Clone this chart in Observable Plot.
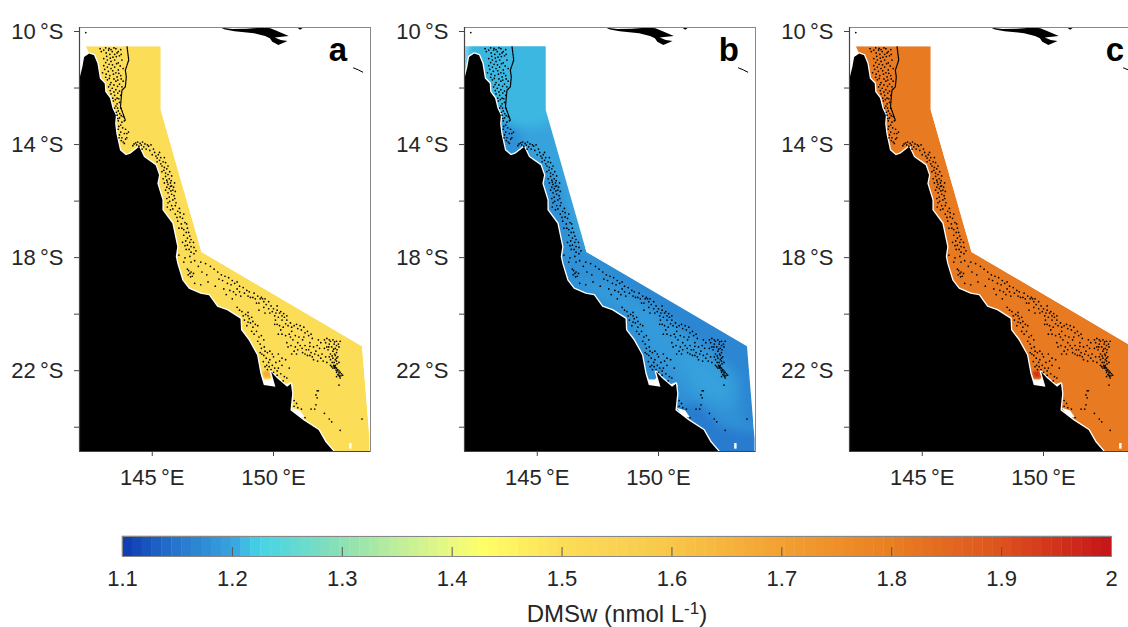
<!DOCTYPE html>
<html><head><meta charset="utf-8">
<script src="https://cdn.jsdelivr.net/npm/d3@7"></script>
<script src="https://cdn.jsdelivr.net/npm/@observablehq/plot@0.6"></script>
<style>
html,body{margin:0;padding:0;background:#fff;overflow:hidden}
#root{position:relative;width:1128px;height:627px;overflow:hidden;font-family:"Liberation Sans",Arial,sans-serif;color:#262626}
#root>svg{position:absolute}
#lab{position:absolute;left:417px;width:400px;top:600px;text-align:center;font-size:24px;line-height:28px}
#lab sup{font-size:17px;line-height:0;vertical-align:8px}
</style></head><body><div id="root"></div>
<script>
// colour map of the colour bar
const colorStops=[1.1,1.15,1.2,1.225,1.3,1.35,1.4,1.43,1.5,1.6,1.7,1.8,1.9,2.0];
const colorValues=["#0F39B3","#2676CC","#37A3DD","#44D4E8","#8BE0B4","#BCEE9B","#EAF97F","#FFFF66","#FCDD58","#F8C74A","#F3A030","#E97F22","#DE521E","#C5141A"];
const barTicks=[1.1,1.2,1.3,1.4,1.5,1.6,1.7,1.8,1.9,2];
const latTicks=[-10,-12,-14,-16,-18,-20,-22,-24];
const latLabels=[-10,-14,-18,-22];
const lonTicks=[145,150];
// Queensland coast, north to south (lon, lat)
const coast=[[142.4,-10.92],[142.6,-10.98],[142.74,-11.27],[142.84,-11.8],[143.04,-11.98],[143.06,-12.27],[143.26,-12.5],[143.36,-12.86],[143.5,-13.1],[143.47,-13.4],[143.52,-13.75],[143.67,-14.34],[143.91,-14.52],[144.11,-14.46],[144.46,-14.22],[144.66,-14.58],[145.14,-14.87],[145.28,-15.22],[145.21,-15.52],[145.42,-16.1],[145.42,-16.46],[145.83,-16.93],[146.03,-17.76],[145.97,-18.1],[146.03,-18.35],[146.24,-18.94],[146.51,-19.24],[146.99,-19.42],[147.34,-19.47],[147.68,-19.88],[148.09,-20],[148.64,-20.3],[148.66,-20.7],[148.98,-21.06],[149.32,-21.59],[149.46,-22.24],[149.6,-22.65],[150.08,-22.71],[149.9,-22.18],[150.15,-22.41],[150.56,-22.71],[150.72,-22.6],[150.77,-22.95],[150.7,-23.54],[151.25,-23.9],[151.86,-24.24],[152.14,-24.66],[152.48,-25]];
const landWest=[[142,-25],[142,-11.8],[142.12,-11.39],[142.19,-11.04]];
// outer limit of the sea domain
const seaOuter=[[142.26,-10.66],[145.35,-10.66],[145.35,-12.92],[147.03,-17.94],[153.65,-21.28],[153.96,-24.54],[153.96,-25]];
// everything of the frame outside the sea domain
const outside=[[142,-10],[154,-10],[154,-25.3],[153.96,-25.3],[153.96,-24.54],[153.65,-21.28],[147.03,-17.94],[145.35,-12.92],[145.35,-10.66],[142,-10.66]];
// islands north of the domain
const guinea=[[147.82,-10],[148,-10.07],[148.4,-10.13],[149.2,-10.2],[149.65,-10.3],[149.85,-10.38],[149.95,-10.5],[150.2,-10.62],[150.58,-10.48],[150.3,-10.44],[150.05,-10.35],[150.63,-10.3],[150.15,-10.12],[149.87,-10.03],[149.6,-10],[148.9,-10.04],[148.3,-10.05],[147.95,-10.02]];
const islet=[[151,-10.02],[151.2,-10.02],[151.1,-10.08]];
const streak=[[153.3,-11.43],[153.5,-11.5],[153.68,-11.58]];
// white gaps by the coast and in the field
const gaps=[
 [[149.5,-22.25],[149.6,-22.45],[149.85,-22.45],[149.95,-22.35],[150.1,-22.6],[150.08,-22.75],[149.55,-22.7]],
 [[150.2,-22.45],[150.5,-22.62],[150.72,-22.55],[150.8,-22.7],[150.5,-22.8]],
 [[150.75,-23.45],[151.1,-23.55],[151.3,-23.8],[151,-23.75]],
 [[153.12,-24.7],[153.22,-24.7],[153.22,-24.9],[153.12,-24.9]]
];
// barrier reef edge in the far north
const reefLine=[[143.96,-10.68],[144.03,-11.15],[143.89,-11.51],[143.93,-11.75],[143.89,-12.1],[143.75,-12.22],[143.72,-12.5],[143.69,-12.8],[143.89,-13.28]];
// individual reefs
const reefs=[[142.26,-10.18],[142.85,-10.75],[142.9,-10.85],[143,-10.8],[143.1,-10.9],[143.2,-10.8],[143.25,-10.95],[143.35,-10.85],[143.5,-10.75],[143.45,-10.95],[143.6,-10.85],[143.65,-11],[143,-11.1],[143.15,-11.15],[143.3,-11.2],[143.45,-11.15],[143.6,-11.25],[143.75,-11.15],[143,-11.35],[143.15,-11.4],[143.3,-11.45],[143.45,-11.4],[143.6,-11.5],[143.8,-11.45],[142.95,-11.6],[143.1,-11.65],[143.25,-11.7],[143.4,-11.65],[143.55,-11.75],[143.7,-11.7],[143.15,-11.85],[143.3,-11.95],[143.5,-11.9],[143.65,-12],[143.8,-11.9],[143.2,-12.1],[143.35,-12.15],[143.5,-12.2],[143.65,-12.25],[143.75,-12.1],[143.3,-12.35],[143.45,-12.4],[143.55,-12.5],[143.7,-12.4],[143.4,-12.6],[143.55,-12.7],[143.65,-12.65],[143.45,-12.85],[143.6,-12.95],[143.7,-12.85],[143.55,-13.1],[143.65,-13.2],[143.8,-13.15],[143.6,-13.3],[143.75,-13.35],[143.85,-13.3],[143.62,-13.5],[143.78,-13.55],[143.9,-13.6],[143.7,-13.7],[143.85,-13.75],[143.95,-13.75],[143.75,-13.9],[143.9,-13.95],[143.8,-14.05],
[144.25,-14.12],[144.32,-14.08],[144.4,-14.05],[144.5,-14.1],[144.6,-14.05],[144.7,-14.12],[144.45,-14.2],[144.85,-14.2],[144.95,-14.15],[144.75,-14.3],[144.9,-14.35],[145.05,-14.3],[145,-14.5],[145.15,-14.55],[145.25,-14.5],[145.35,-14.6],[145.3,-14.7],[145.45,-14.75],[145.2,-14.75],[145.4,-14.9],[145.5,-14.95],[145.6,-15],
[145.4,-15.1],[145.55,-15.15],[145.65,-15.2],[145.45,-15.35],[145.6,-15.4],[145.7,-15.35],[145.5,-15.5],[145.65,-15.55],[145.75,-15.5],[145.8,-15.6],[145.6,-15.65],[145.7,-15.7],[145.85,-15.75],[145.65,-15.85],[145.8,-15.9],[145.9,-15.95],[145.7,-16],[145.85,-16.1],[145.65,-16.2],[145.8,-16.3],[145.95,-16.3],[146.05,-16.5],[145.75,-16.45],[145.95,-16.6],[146.15,-16.55],[146.25,-16.75],[146.05,-16.85],[146.2,-16.95],[146.35,-16.9],[146.1,-17.1],[146.3,-17.15],[146.45,-17.1],[146.5,-17.25],[146.3,-17.35],[146.45,-17.45],[146.6,-17.5],[146.25,-17.6],[146.45,-17.7],[146.6,-17.75],[146.7,-17.6],[146.4,-17.85],[146.6,-17.95],[146.8,-17.9],
[146.1,-18.05],[146.35,-18.15],[146.55,-18.1],[146.75,-18.25],[147,-18.3],[147.2,-18.35],[147.4,-18.45],[146.5,-18.6],[146.55,-18.7],[146.6,-18.65],[146.65,-18.8],[147,-19.1],[146.75,-19.05],
[147.85,-18.75],[148,-18.8],[148.15,-18.85],[148.3,-18.95],[147.9,-18.95],[148.1,-19.05],[148.25,-19.1],[148.4,-19.05],[148.5,-19],[148.6,-19.15],[148.75,-19.2],[148.9,-19.3],[148.6,-19.35],[148.8,-19.4],[149,-19.35],[149.2,-19.4],[149.35,-19.5],[149.5,-19.55],[149.6,-19.7],[149.4,-19.75],[149.25,-19.6],[149.05,-19.55],[149.7,-19.8],[149.9,-19.85],[149.55,-19.6],[150,-19.95],[150.15,-20],[150.25,-20.1],[150.35,-20.2],[150.45,-20.25],[150.3,-20.05],[150.55,-20.35],[150.7,-20.45],[150.85,-20.55],[150.6,-20.55],[151,-20.65],[151.15,-20.7],[151.3,-20.8],[151.45,-20.9],[151.6,-21],
[148.5,-19.9],[148.7,-20.05],[148.85,-20.15],[148.95,-20.2],[149,-20.3],[148.8,-20.35],[149.05,-20.45],[148.9,-20.55],[149.15,-20.6],[149.3,-20.75],[149.35,-20.55],[149.5,-20.9],[149.1,-20.75],[149.45,-21.2],[149.6,-21.05],
[150.08,-20.35],[150.15,-20.5],[150.25,-20.55],[150.3,-20.7],[150.4,-20.6],[150.5,-20.9],[150.65,-20.85],[150.75,-20.75],[150.9,-20.9],[151.05,-20.95],[151.2,-21.05],[151,-21.15],[151.3,-21.25],[151.5,-21.15],[151.65,-21.3],[151.45,-21.4],[151.75,-21.45],[151.9,-21.35],[151.85,-21.6],[152,-21.55],[152.15,-21.65],[152.05,-21.8],
[152.1,-21.05],[152.2,-21],[152.3,-21.05],[152.45,-21.05],[152.6,-21.1],[152.75,-21.1],[152.15,-21.15],[152.3,-21.2],[152.5,-21.2],[152.6,-21.25],[152.4,-21.3],[152.55,-21.35],[152.7,-21.3],[152.25,-21.4],[152.45,-21.45],[152.6,-21.5],[152.35,-21.55],[152.55,-21.6],[152.65,-21.65],[152.45,-21.7],[152.6,-21.8],[152.35,-21.75],[152.5,-21.85],[152.7,-21.85],[152.55,-21.95],[152.4,-22],[152.5,-22],[152.55,-22.03],[152.6,-22.05],[152.65,-22.1],[152.7,-22.15],[152.75,-22.2],[152.8,-22.25],[152.6,-22.2],[152.7,-22.3],[152.6,-22.35],[152.75,-22.4],[152.85,-22.3],
[149.5,-21.35],[149.65,-21.45],[149.75,-21.5],[149.85,-21.45],[149.6,-21.6],[149.7,-21.7],[149.85,-21.75],[150,-21.65],[149.8,-21.85],[149.95,-21.95],[150.1,-21.85],[150.25,-21.8],[149.65,-22],[149.75,-22.1],[149.9,-22.1],[150.05,-22.05],[150.2,-22.05],[150.35,-21.95],[150,-22.2],[150.15,-22.3],[150.3,-22.25],[150.45,-22.35],[150.55,-22.4],[150.4,-22.5],
[150.6,-21.3],[151.2,-21.5],[150.9,-21.3],[151.5,-21.6],
[151.8,-22.85],[151.75,-23],[151.8,-23.1],[151.75,-23.35],[151.7,-23.5],[151.85,-22.85],[150.85,-23.2],[150.95,-23.3],[150.85,-23.4],[151,-23.45],[151.15,-23.5],[151.3,-23.8],[152.1,-23.65],[152.3,-23.85],[152.4,-23.95],[152.75,-24.25],[153.65,-23.85],[152.7,-22.65],[151.55,-23.5]];
const reefsMore=[[143.08,-10.72],[143.22,-10.74],[143.3,-10.78],[143.42,-10.72],[143.55,-10.9],[143.7,-10.78],[143.12,-11.02],[143.27,-11.08],[143.38,-11.05],[143.52,-11.03],[143.72,-10.95],[143.08,-11.24],[143.22,-11.3],[143.36,-11.32],[143.53,-11.28],[143.68,-11.36],[143.04,-11.48],[143.19,-11.55],[143.37,-11.53],[143.5,-11.6],[143.62,-11.62],[143.08,-11.76],[143.23,-11.8],[143.42,-11.82],[143.58,-11.86],[143.72,-11.82],[143.26,-12.02],[143.42,-12.03],[143.57,-12.08],[143.27,-12.23],[143.42,-12.28],[143.58,-12.32],[143.37,-12.5],[143.48,-12.55],[143.62,-12.52],[143.5,-12.78],[143.57,-12.85],[143.52,-13],[143.66,-13.05],[143.72,-13.12],[143.58,-13.22],[143.7,-13.45],[143.6,-13.6],[143.65,-13.8],[143.72,-14],[143.63,-13.9],[143.85,-14.1],[143.95,-13.9],[144.02,-13.7],
[144.2,-14.18],[144.36,-14.15],[144.55,-14.16],[144.65,-14.22],[144.8,-14.15],[144.58,-14.3],[145.1,-14.42],[145.3,-14.42],[145.2,-14.62],[145.5,-14.6],[145.55,-14.78],[145.35,-14.82],[145.65,-14.9],
[145.48,-15.05],[145.72,-15.1],[145.8,-15.25],[145.55,-15.27],[145.78,-15.42],[145.62,-15.47],[145.92,-15.5],[145.88,-15.65],[145.75,-15.62],[145.95,-15.8],[145.77,-15.78],[145.55,-15.75],[145.93,-16.05],[145.6,-16.05],[145.72,-16.15],[145.98,-16.2],[145.62,-16.35],[145.85,-16.42],[146.12,-16.4],[146.15,-16.7],[146.3,-16.6],[146.02,-16.72],[146.42,-16.95],[146.22,-17.1],[146.4,-17.25],[146.55,-17.38],[146.38,-17.55],[146.55,-17.6],[146.72,-17.78],[146.35,-17.72],[146.52,-17.85],[146.72,-18],
[146.3,-18.3],[146.6,-18.3],[146.9,-18.45],[146.45,-18.55],[146.48,-18.75],[146.7,-18.7],[146.58,-18.82],[147.55,-18.55],[147.7,-18.65],[147.75,-18.9],[147.6,-19.15],[147.95,-19.25],[148.2,-19.3],[148.35,-19.35],[148.5,-19.25],[148.45,-19.45],[148.65,-19.5],[148.95,-19.5],[149.15,-19.55],[149.3,-19.75],[149.45,-19.6],[149.65,-19.6],[149.8,-19.7],[149.6,-19.9],[149.8,-19.95],[149.95,-20.05],[150.1,-20.1],[150.05,-20.2],[150.2,-20.25],[150.35,-20.35],[150.15,-19.85],[150.42,-20.12],[150.55,-20.2],[150.5,-20.48],[150.75,-20.6],[150.95,-20.5],[151.1,-20.55],[151.25,-20.6],[151.4,-20.75],[151.55,-20.85],
[148.6,-20],[148.75,-20.2],[148.95,-20.08],[149.1,-20.25],[149.15,-20.4],[149.25,-20.5],[148.95,-20.42],[149.2,-20.85],[149.4,-20.95],[149.35,-21.1],[149.62,-21.3],[149.45,-21.5],[149.58,-21.82],[149.52,-21.55],[149.72,-21.95],[149.82,-22],[150.15,-22.15],[149.95,-21.55],[150.2,-21.55],[150.35,-21.7],[150.5,-21.75],[150.65,-22.05],
[150.8,-21.05],[151.1,-21.25],[151.35,-21.4],[151.55,-21.5],[151.7,-21.55],[151.65,-21.75],[151.95,-21.7],[151.3,-21.55],[151.8,-21.25],[151.95,-21.15],
[152.2,-21.3],[152.35,-21.1],[152.52,-21.12],[152.68,-21.2],[152.28,-21.3],[152.48,-21.38],[152.62,-21.4],[152.52,-21.55],[152.42,-21.62],[152.6,-21.7],[152.55,-21.75],[152.42,-21.85],[152.62,-21.9],[152.48,-21.95],[152.52,-22.05],[152.45,-22.05],[152.58,-22.12],[152.62,-22.15],[152.7,-22.22],[152.65,-22.28],[152.78,-22.32],[152.72,-22.35],[152.55,-22.02],[152.52,-21.98],
[150.55,-21.15],[150.72,-21.25],[150.85,-21.45],[151,-21.4],[151.18,-21.35],[151.4,-21.6],[151.6,-21.65],[151.82,-21.8],[150.75,-21.55],[150.95,-21.55],[150.7,-20.95],[150.35,-20.85],[150.2,-20.85],[149.85,-20.1],[149.65,-20.1],[149.4,-20],[148.3,-19.6],[148.05,-19.45],[147.25,-18.75],[147.05,-18.65],[147.3,-19],[150.05,-20.5],[151.25,-20.95],[151.5,-21.28],[151.85,-21.05],[152.1,-21.35],[152.3,-21.65],[152.2,-21.85],[152.35,-21.95]];
// DMSw value of the field, per panel
const seaValues={a:1.5,b:1.18,c:1.81};
const orangeSpot=[[149.55,-22.15],[149.85,-22.15],[149.88,-22.38],[149.6,-22.38]];
const blueNorth=[[142,-10.4],[145.7,-10.4],[145.7,-13.2],[145.2,-13.5],[144,-13.5],[143,-13],[142,-12]];
const blueMid=[[143.8,-12.6],[145.8,-12.6],[147.2,-17],[147.5,-18],[146.6,-17.6],[145.9,-15.5],[144.6,-14.5]];
const blueCore=[[146.5,-18.9],[148,-19.1],[150,-20.2],[152.5,-21.6],[153.2,-22.4],[153.3,-23.2],[152.8,-23.6],[151.6,-23.2],[151,-22.7],[149.8,-21.6],[148.8,-20.2],[147.5,-19.5]];
const blueCore2=[[150.8,-21.5],[152,-21.9],[153,-22.6],[152.6,-23.2],[151.6,-22.8]];
const blueStrip=[[147.2,-18],[153.8,-21.2],[154.2,-24],[153.5,-24],[153.4,-22.3],[150.5,-20.3]];
const blueSouth=[[152,-24],[153.5,-24.3],[154.2,-24.3],[154.2,-25.3],[152.2,-25.3]];
const blueCoast=[[150.7,-23.4],[151.7,-23.3],[152.5,-24.1],[152,-24.7]];
const patches={
 a:[{v:1.68,p:orangeSpot}],
 b:[{v:1.2,p:blueMid},{v:1.21,p:blueNorth},{v:1.19,p:blueCore},{v:1.198,p:blueCore2},{v:1.168,p:blueStrip},{v:1.155,p:blueSouth},{v:1.155,p:blueCoast}],
 c:[{v:1.95,p:orangeSpot}]
};
const blurs={a:1,b:5,c:1};
const letters=[{k:"a",left:0,lon:152.66},{k:"b",left:385,lon:152.9},{k:"c",left:770,lon:152.95}];

const FONT='"Liberation Sans",Arial,sans-serif', INK="#262626";
const root=document.getElementById("root");
const colorScale={type:"linear",domain:colorStops,range:colorValues,clamp:true};
const rows=(p,id,v)=>p.map(([lon,lat])=>({lon,lat,id,v}));
const lonFmt=d=>d+"\u2009°E", latFmt=d=>latLabels.includes(d)?Math.abs(d)+"\u2009°S":"";
const blurred=px=>(index,scales,values,dims,context,next)=>{const g=next(index,scales,values,dims,context);g.style.filter=`blur(${px}px)`;return g;};

function panel(L){
  const sea=[...seaOuter,...[...coast].reverse()];
  const land=[...landWest,...coast];
  const field=patches[L.k].flatMap((o,i)=>rows(o.p,"p"+i,o.v));
  const g=gaps.flatMap((p,i)=>rows(p,"g"+i));
  const svg=Plot.plot({
    width:390,height:510,marginLeft:79,marginRight:20,marginTop:27,marginBottom:59,
    style:{fontFamily:FONT,background:"transparent",overflow:"visible"},
    x:{domain:[142,154],label:null},y:{domain:[-25,-10],label:null},
    color:colorScale,
    marks:[
      Plot.line(rows(sea,"sea",seaValues[L.k]),{x:"lon",y:"lat",z:"id",fill:"v",stroke:"none"}),
      Plot.line(field,{x:"lon",y:"lat",z:"id",fill:"v",stroke:"none",clip:"frame",render:blurred(blurs[L.k])}),
      Plot.line(rows(outside,"o"),{x:"lon",y:"lat",fill:"white",stroke:"none",clip:"frame"}),
      Plot.line(g,{x:"lon",y:"lat",z:"id",fill:"white",stroke:"none"}),
      Plot.line(rows(land,"l"),{x:"lon",y:"lat",stroke:"white",strokeWidth:2.6,clip:"frame"}),
      Plot.line(rows(land,"l"),{x:"lon",y:"lat",fill:"black",stroke:"none"}),
      Plot.line(rows(guinea,"n"),{x:"lon",y:"lat",fill:"black",stroke:"none"}),
      Plot.line(rows(islet,"i"),{x:"lon",y:"lat",fill:"black",stroke:"none"}),
      Plot.line(rows(streak,"s"),{x:"lon",y:"lat",stroke:"black",strokeWidth:1}),
      Plot.line(rows(reefLine,"r"),{x:"lon",y:"lat",stroke:"black",strokeWidth:1.2,strokeDasharray:"2.5,0.8"}),
      Plot.dot([...reefs,...reefsMore],{x:d=>d[0],y:d=>d[1],r:0.85,fill:"black",stroke:"none"}),
      Plot.frame({stroke:"#888",strokeWidth:1}),
      Plot.ruleX([142],{stroke:"#444",strokeWidth:1.2}),
      Plot.ruleY([-25],{stroke:"#444",strokeWidth:1.2}),
      Plot.axisY({ticks:latTicks,tickFormat:latFmt,tickSize:5,tickPadding:11,fontSize:22,stroke:"#444",color:INK,label:null,dy:4}),
      Plot.axisX({ticks:lonTicks,tickFormat:lonFmt,tickSize:5,tickPadding:13,fontSize:22,stroke:"#444",color:INK,label:null}),
      Plot.text([L.k],{x:[L.lon],y:[-10.82],text:d=>d,fontSize:33,fontWeight:"bold",fill:"black",textAnchor:"middle"})
    ]
  });
  svg.style.left=L.left+"px"; svg.style.top="0px";
  root.appendChild(svg);
}
letters.forEach(panel);

// colour bar
const barSteps=d3.range(100).map(i=>({a:1.1+i*0.009,b:1.1+(i+1)*0.009,v:1.1+(i+0.5)*0.009}));
const bar=Plot.plot({
  width:1128,height:90,marginLeft:122,marginRight:17,marginTop:6,marginBottom:64,
  style:{fontFamily:FONT,background:"transparent"},
  x:{domain:[1.1,2],label:null},y:{domain:[0,1],axis:null,label:null},
  color:colorScale,
  marks:[
    Plot.rect(barSteps,{x1:"a",x2:"b",y1:0,y2:1,fill:"v",inset:-0.2}),
    Plot.ruleX(barTicks.slice(1,-1),{y1:0,y2:0.45,stroke:"#555",strokeWidth:1}),
    Plot.frame({stroke:"#888"}),
    Plot.axisX({ticks:barTicks,tickFormat:d=>String(d),tickSize:0,tickPadding:14,fontSize:22,color:INK,label:null,stroke:"none"})
  ]
});
bar.style.left="0px"; bar.style.top="530px";
root.appendChild(bar);
const lab=document.createElement("div");
lab.id="lab"; lab.innerHTML='DMSw (nmol L<sup>-1</sup>)';
root.appendChild(lab);
</script></body></html>
